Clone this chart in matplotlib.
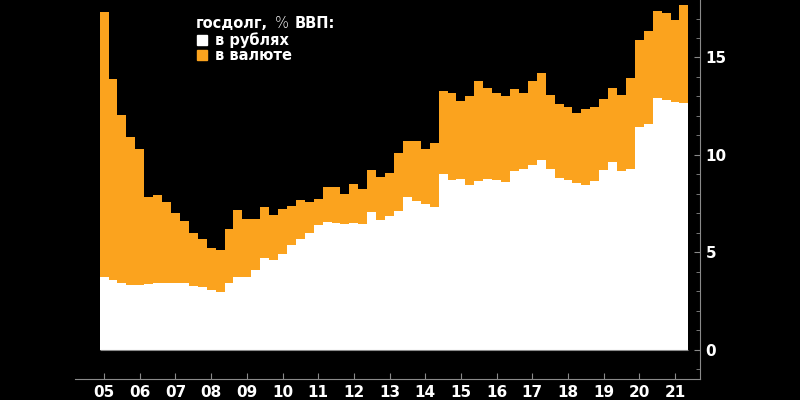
import matplotlib
matplotlib.use('Agg')

import matplotlib.pyplot as plt
import numpy as np
from matplotlib.ticker import MultipleLocator

# quarterly data, 2005Q1 .. 2021Q2, % of GDP
rubles = [3.71, 3.56, 3.42, 3.33, 3.33, 3.37, 3.45, 3.45,
          3.42, 3.42, 3.25, 3.21, 3.08, 2.99, 3.45, 3.74,
          3.74, 4.10, 4.72, 4.62, 4.92, 5.40, 5.68, 5.98,
          6.42, 6.55, 6.52, 6.46, 6.53, 6.46, 7.06, 6.67,
          6.84, 7.13, 7.83, 7.66, 7.47, 7.35, 9.00, 8.72,
          8.75, 8.46, 8.68, 8.75, 8.72, 8.60, 9.20, 9.28,
          9.47, 9.73, 9.26, 8.80, 8.72, 8.55, 8.48, 8.68,
          9.23, 9.62, 9.20, 9.30, 11.43, 11.57, 12.91, 12.82,
          12.74, 12.68]
currency = [13.61, 10.32, 8.61, 7.61, 6.96, 4.49, 4.48, 4.14,
            3.62, 3.21, 2.73, 2.47, 2.13, 2.14, 2.74, 3.44,
            2.96, 2.60, 2.60, 2.30, 2.31, 1.98, 2.02, 1.62,
            1.32, 1.81, 1.84, 1.54, 1.98, 1.80, 2.17, 2.18,
            2.22, 2.95, 2.90, 3.07, 2.82, 3.25, 4.30, 4.44,
            4.02, 4.57, 5.13, 4.70, 4.48, 4.44, 4.17, 3.88,
            4.32, 4.46, 3.82, 3.80, 3.76, 3.59, 3.87, 3.78,
            3.66, 3.83, 3.88, 4.63, 4.47, 4.81, 4.49, 4.44,
            4.18, 5.01]
start_year = 2005
years = list(range(2005, 2022))
year_labels = ['05', '06', '07', '08', '09', '10', '11', '12', '13',
               '14', '15', '16', '17', '18', '19', '20', '21']

ORANGE = '#fba31e'
GREY = '#8a8a8a'

x = start_year + np.arange(len(rubles)) * 0.25

fig = plt.figure(figsize=(8, 4), dpi=100, facecolor='black')
ax = fig.add_axes([0.094, 0.0525, 0.781, 0.9475], facecolor='black')

ax.bar(x, rubles, width=0.25, color='white', linewidth=0)
ax.bar(x, currency, width=0.25, bottom=rubles, color=ORANGE, linewidth=0)
ax.hlines(0, x[0] - 0.125, x[-1] + 0.125, color=GREY, linewidth=0.8)

ax.set_xlim(2004.19, 2021.7)
ax.set_ylim(-1.5, 17.95)

# spines
for s in ['left', 'top']:
    ax.spines[s].set_visible(False)
for s in ['right', 'bottom']:
    ax.spines[s].set_color(GREY)
    ax.spines[s].set_linewidth(0.8)

ax.yaxis.tick_right()
ax.set_yticks([0, 5, 10, 15])
ax.yaxis.set_minor_locator(MultipleLocator(1))
ax.tick_params(axis='y', which='both', direction='in', color=GREY,
               labelcolor='white', labelsize=11, pad=4)
ax.tick_params(axis='y', which='major', length=4)
ax.tick_params(axis='y', which='minor', length=3)
for lab in ax.get_yticklabels():
    lab.set_fontweight('bold')

ax.set_xticks(years)
ax.set_xticklabels(year_labels, fontweight='bold')
ax.tick_params(axis='x', direction='in', color=GREY, length=4,
               labelcolor='white', labelsize=11, pad=4)

# legend block: title pieces chained one after another
base_y = 1 - 28 / 400
t1 = fig.text(196 / 800, base_y, 'госдолг,', color='white', fontsize=10.5,
              fontweight='bold', va='baseline', ha='left')
t2 = fig.text(0, 0, '%', color='white', fontsize=10.5, fontweight='light',
              va='baseline', ha='left')
t3 = fig.text(0, 0, 'ВВП:', color='white', fontsize=10.5, fontweight='bold',
              va='baseline', ha='left')
renderer = fig.canvas.get_renderer()
bb1 = t1.get_window_extent(renderer)
t2.set_position(((bb1.x1 + 7) / 800, base_y))
bb2 = t2.get_window_extent(renderer)
t3.set_position(((bb2.x1 + 6) / 800, base_y))

fig.patches.append(plt.Rectangle((197 / 800, 1 - 45 / 400), 10 / 800, 10 / 400,
                                 transform=fig.transFigure, color='white'))
fig.patches.append(plt.Rectangle((197 / 800, 1 - 60 / 400), 10 / 800, 10 / 400,
                                 transform=fig.transFigure, color=ORANGE))
fig.text(215 / 800, 1 - 40 / 400, 'в рублях', color='white', fontsize=10.5,
         fontweight='bold', va='center', ha='left')
fig.text(215 / 800, 1 - 55 / 400, 'в валюте', color='white', fontsize=10.5,
         fontweight='bold', va='center', ha='left')

fig.savefig('out.png', dpi=100, facecolor='black')
plt.close(fig)
